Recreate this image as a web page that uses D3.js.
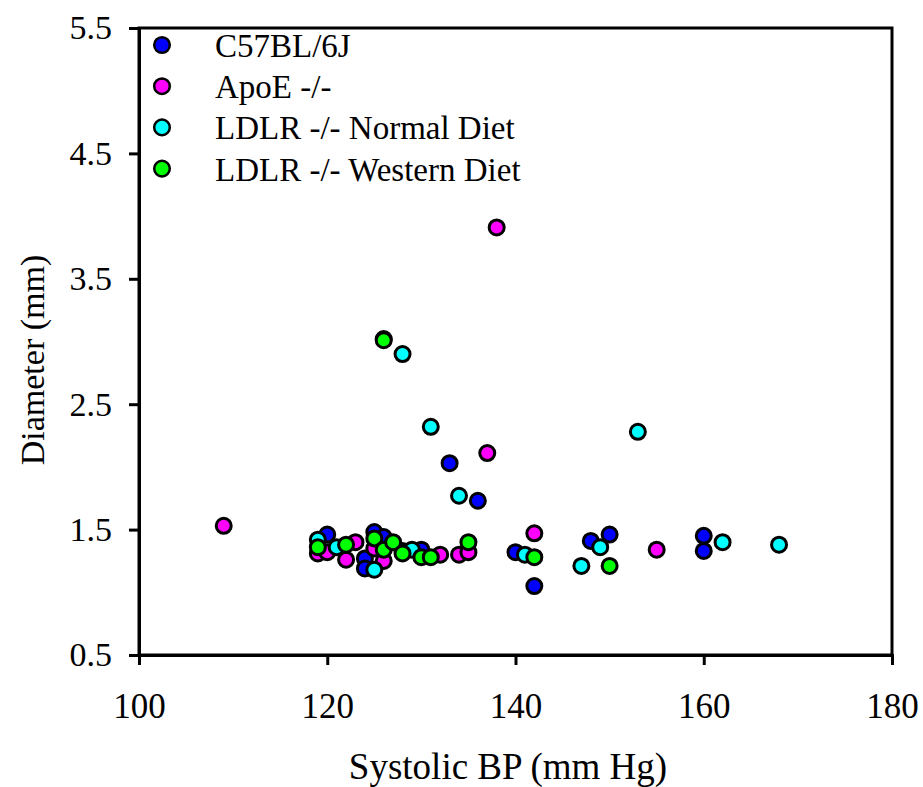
<!DOCTYPE html>
<html><head><meta charset="utf-8">
<script src="https://cdn.jsdelivr.net/npm/d3@7"></script>
<style>body{margin:0;background:#fff}text{font-family:"Liberation Serif","Times New Roman",serif;fill:#000}</style>
</head><body>
<script>
const seriesNames = ["C57BL/6J", "ApoE -/-", "LDLR -/- Normal Diet", "LDLR -/- Western Diet"];
const seriesColors = ["#0000ff", "#ff00ff", "#00ffff", "#00ff00"];
const c57 = [[120,1.46],[124,1.27],[124,1.19],[125,1.48],[126,1.44],[126,3.02],[130,1.34],[133,2.03],[136,1.73],[140,1.32],[142,1.05],[148,1.41],[150,1.46],[160,1.45],[160,1.33]];
const apoe = [[109,1.53],[119,1.31],[120,1.32],[122,1.26],[123,1.40],[125,1.35],[126,1.25],[128,1.33],[132,1.30],[134,1.30],[135,1.32],[137,2.11],[138,3.91],[142,1.47],[155,1.34]];
const ldlrNormal = [[119,1.42],[121,1.36],[125,1.18],[128,2.90],[129,1.34],[131,2.32],[134,1.77],[141,1.30],[147,1.21],[149,1.36],[153,2.28],[162,1.40],[168,1.38]];
const ldlrWestern = [[119,1.36],[122,1.38],[125,1.43],[126,1.34],[126,3.01],[127,1.40],[128,1.31],[130,1.28],[131,1.28],[135,1.40],[142,1.28],[150,1.21]];
const xTicks = [100,120,140,160,180];
const yTicks = [0.5,1.5,2.5,3.5,4.5,5.5];
const allSeries = [c57, apoe, ldlrNormal, ldlrWestern];

const W = 923, H = 787;
const L = 139, R = 892, T = 28, B = 655;
const svg = d3.select("body").append("svg").attr("width", W).attr("height", H);
const x = d3.scaleLinear().domain([100,180]).range([L,R]);
const y = d3.scaleLinear().domain([0.5,5.5]).range([B,T]);

// frame
svg.append("rect").attr("x",L).attr("y",T).attr("width",R-L).attr("height",B-T)
  .attr("fill","none").attr("stroke","#000").attr("stroke-width",3);

const xa = svg.append("g").attr("transform",`translate(0,${B})`)
  .call(d3.axisBottom(x).tickValues(xTicks).tickFormat(d3.format("d")).tickSize(10).tickPadding(28));
const ya = svg.append("g").attr("transform",`translate(${L},0)`)
  .call(d3.axisLeft(y).tickValues(yTicks).tickFormat(d3.format(".1f")).tickSize(10).tickPadding(17));
[xa,ya].forEach(a=>{
  a.select(".domain").attr("stroke","#000").attr("stroke-width",3);
  a.selectAll(".tick line").attr("stroke","#000").attr("stroke-width",3);
  a.selectAll(".tick text").style("font-family",'"Liberation Serif",serif').attr("fill","#000");
});
xa.selectAll(".tick text").style("font-size","35px");
ya.selectAll(".tick text").style("font-size","34px");

svg.append("text").attr("x",508).attr("y",779).attr("text-anchor","middle")
  .style("font-size","37px").text("Systolic BP (mm Hg)");
svg.append("text").attr("transform","translate(44,360) rotate(-90)").attr("text-anchor","middle")
  .style("font-size","34px").text("Diameter (mm)");

// points
allSeries.forEach((s,i)=>{
  svg.append("g").selectAll("circle").data(s).join("circle")
    .attr("cx",d=>x(d[0])).attr("cy",d=>y(d[1])).attr("r",7.5)
    .attr("fill",seriesColors[i]).attr("stroke","#000").attr("stroke-width",3);
});

// legend
const lg = svg.append("g");
seriesNames.forEach((n,i)=>{
  const yy = 45 + i*41.2;
  lg.append("circle").attr("cx",162).attr("cy",yy).attr("r",7.8)
    .attr("fill",seriesColors[i]).attr("stroke","#000").attr("stroke-width",2.5);
  lg.append("text").attr("x",215).attr("y",yy+12).style("font-size","33px").text(n);
});
</script>
</body></html>
